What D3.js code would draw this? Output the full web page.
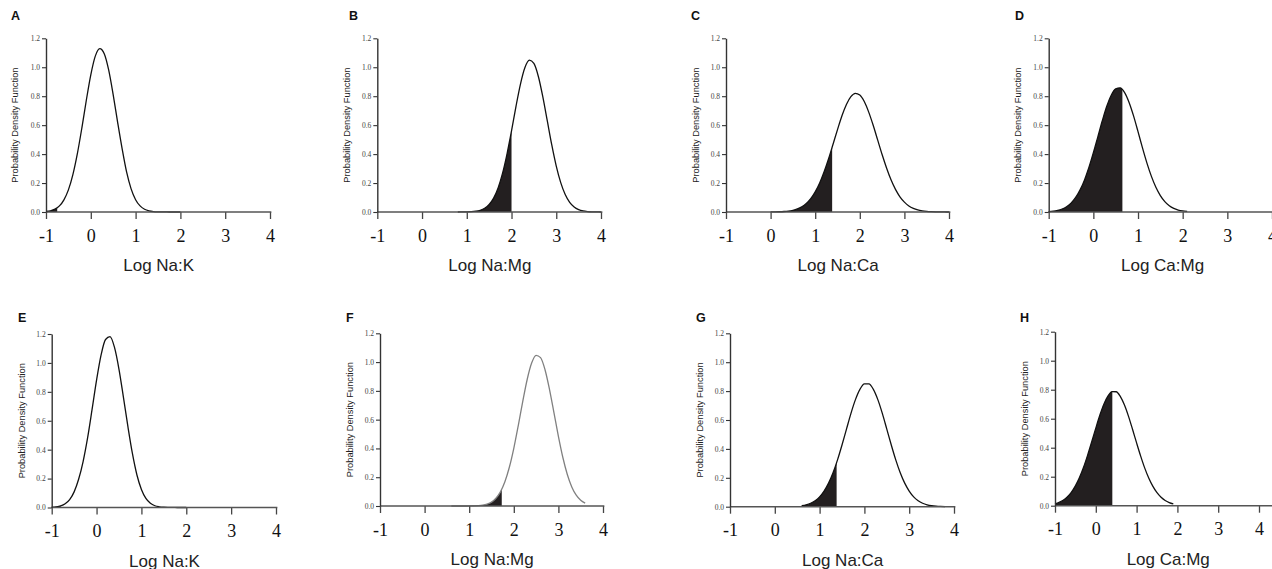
<!DOCTYPE html>
<html>
<head>
<meta charset="utf-8">
<script src="https://cdn.jsdelivr.net/npm/d3@7"></script>
<style>
  body { margin: 0; background: #fff; }
  svg { display: block; }
</style>
</head>
<body>
<svg id="chart" width="1272" height="569"></svg>
<script>
// panel letters and axis titles
const letters = ["A", "B", "C", "D", "E", "F", "G", "H"];
const xTitles = ["Log Na:K", "Log Na:Mg", "Log Na:Ca", "Log Ca:Mg",
                 "Log Na:K", "Log Na:Mg", "Log Na:Ca", "Log Ca:Mg"];
const yTitle = "Probability Density Function";

// tick labels
const xTicks = [-1, 0, 1, 2, 3, 4];
const yTicks = [0, 0.2, 0.4, 0.6, 0.8, 1.0, 1.2];

const step = 0.1;
const curveStart = [-1.0, 0.8, 0.0, -1.0, -1.0, 0.6, 0.6, -1.0];
const densA = [0.0034,0.0085,0.020,0.042,0.084,0.153,0.258,0.403,0.580,0.772,
               0.948,1.077,1.129,1.094,0.980,0.809,0.618,0.436,0.275,0.160,
               0.085,0.042,0.019,0.008,0.003,0.0012,0.0005,0.0002,0,0,0];
const densB = [0.0001,0.0003,0.0008,0.0021,0.0053,0.012,0.026,0.052,0.096,0.166,
               0.268,0.402,0.561,0.730,0.884,0.998,1.049,1.026,0.936,0.795,
               0.629,0.463,0.317,0.203,0.121,0.067,0.035,0.017,0.0074,0.003,
               0.0012,0.0004,0.0001];
const densC = [0.0004,0.0008,0.0016,0.0033,0.0064,0.0118,0.021,0.036,0.059,0.0926,
               0.1395,0.201,0.278,0.368,0.468,0.569,0.665,0.743,0.797,0.820,
               0.808,0.763,0.690,0.599,0.498,0.397,0.304,0.222,0.156,0.105,
               0.068,0.042,0.025,0.014,0.0077,0.004,0.002,0.001,0.0005,0.0002,0.0001];
const densD = [0.0029,0.0059,0.0113,0.0208,0.0366,0.0614,0.0985,0.151,0.220,0.307,
               0.409,0.519,0.630,0.730,0.807,0.851,0.858,0.825,0.757,0.664,
               0.555,0.443,0.338,0.246,0.171,0.1135,0.0718,0.0434,0.025,0.0138,
               0.0072,0.0036];
const densE = [0.0016,0.0044,0.011,0.0255,0.054,0.108,0.195,0.318,0.481,0.678,
               0.881,1.054,1.162,1.182,1.107,0.956,0.760,0.557,0.372,0.225,
               0.125,0.063,0.029,0.012,0.005,0.002,0.0008,0.0003,0.0001,0,0];
const densF = [0,0,0,0.0001,0.0003,0.0009,0.0024,0.0057,0.013,0.027,
               0.054,0.098,0.168,0.269,0.401,0.559,0.725,0.879,0.993,1.047,
               1.031,0.947,0.811,0.649,0.484,0.337,0.219,0.1326,0.075,0.0396,0.0195];
const densG = [0.0069,0.0131,0.0238,0.0412,0.068,0.108,0.163,0.235,0.324,0.427,
               0.537,0.646,0.741,0.812,0.850,0.850,0.812,0.741,0.646,0.537,
               0.427,0.324,0.235,0.163,0.108,0.068,0.0412,0.0238,0.0131,0.0069,
               0.0035,0.0017,0.0008];
const densH = [0.0131,0.0227,0.0376,0.0602,0.0925,0.137,0.194,0.265,0.349,0.441,
               0.535,0.625,0.702,0.758,0.787,0.786,0.754,0.696,0.618,0.527,
               0.433,0.342,0.259,0.189,0.133,0.0895,0.058,0.0362,0.0217,0.0125];
const densities = [densA, densB, densC, densD, densE, densF, densG, densH];

// shaded tail runs from the start of the curve to this value
const cutoffs = [-0.75, 2.0, 1.38, 0.65, -0.8, 1.73, 1.38, 0.405];

// layout of each panel (pixels) : axis left/right, axis top/bottom
const layout = [
  {xl: 46,    xr: 270,  yt: 38.3,  yb: 212,   axisEnd: 4.03, lx: 11,   ly: 20,  tx: 15},
  {xl: 377.3, xr: 601,  yt: 38.3,  yb: 212,   axisEnd: 4.03, lx: 349,  ly: 20,  tx: 347},
  {xl: 726,   xr: 949,  yt: 38.3,  yb: 212,   axisEnd: 4.03, lx: 691,  ly: 20,  tx: 696},
  {xl: 1048.7,xr: 1272, yt: 38.3,  yb: 212,   axisEnd: 4.1,  lx: 1015, ly: 20,  tx: 1018},
  {xl: 51.7,  xr: 276,  yt: 334,   yb: 507.5, axisEnd: 4.03, lx: 18,   ly: 322, tx: 21.5},
  {xl: 380,   xr: 603,  yt: 333.3, yb: 506,   axisEnd: 4.03, lx: 346,  ly: 322, tx: 350},
  {xl: 730,   xr: 954,  yt: 333.3, yb: 506.7, axisEnd: 4.03, lx: 696,  ly: 322, tx: 700},
  {xl: 1055,  xr: 1259, yt: 331.7, yb: 505.7, axisEnd: 4.55, lx: 1020, ly: 322, tx: 1025}
];
const lineColors = ["#111", "#111", "#111", "#111", "#111", "#808080", "#111", "#111"];

const serif = "'Liberation Serif', 'Times New Roman', serif";
const sans = "'Liberation Sans', Arial, sans-serif";

const svg = d3.select("#chart");

letters.forEach((letter, i) => {
  const L = layout[i];
  const g = svg.append("g");

  const x = d3.scaleLinear().domain([-1, 4]).range([L.xl, L.xr]);
  const y = d3.scaleLinear().domain([0, 1.2]).range([L.yb, L.yt]);

  const pts = densities[i].map((d, k) => ({x: curveStart[i] + k * step, y: d}));

  // shaded tail, clipped at the cutoff
  const clipId = "clip" + i;
  svg.append("clipPath").attr("id", clipId)
    .append("rect")
    .attr("x", x(curveStart[i]) - 2)
    .attr("y", L.yt - 5)
    .attr("width", x(cutoffs[i]) - x(curveStart[i]) + 2)
    .attr("height", L.yb - L.yt + 5);

  const area = d3.area().x(d => x(d.x)).y0(y(0)).y1(d => y(d.y)).curve(d3.curveMonotoneX);
  g.append("path")
    .datum(pts)
    .attr("d", area)
    .attr("fill", "#231f20")
    .attr("clip-path", `url(#${clipId})`);

  const line = d3.line().x(d => x(d.x)).y(d => y(d.y)).curve(d3.curveMonotoneX);
  g.append("path")
    .datum(pts)
    .attr("d", line)
    .attr("fill", "none")
    .attr("stroke", lineColors[i])
    .attr("stroke-width", 1.3);

  // x axis
  const xAxisG = g.append("g")
    .attr("transform", `translate(0,${L.yb})`)
    .attr("font-family", serif)
    .call(d3.axisBottom(x).tickValues(xTicks).tickSize(7).tickSizeOuter(0).tickFormat(d => String(d)));
  xAxisG.attr("font-family", serif).attr("font-size", 18);
  xAxisG.select(".domain").remove();
  xAxisG.selectAll(".tick line").attr("stroke", "#444").attr("stroke-width", 1.3);
  xAxisG.selectAll(".tick text")
    .attr("y", 25.5)
    .attr("dy", null)
    .style("font-family", serif)
    .style("font-size", "18px")
    .attr("fill", "#111")
    .attr("dominant-baseline", "middle");
  g.append("line")
    .attr("x1", x(-1)).attr("x2", x(L.axisEnd))
    .attr("y1", L.yb).attr("y2", L.yb)
    .attr("stroke", "#555").attr("stroke-width", 1.4);

  // y axis
  const yAxisG = g.append("g")
    .attr("transform", `translate(${L.xl},0)`)
    .call(d3.axisLeft(y).tickValues(yTicks).tickSize(4).tickSizeOuter(0).tickFormat(d3.format(".1f")));
  yAxisG.select(".domain").attr("stroke", "#333").attr("stroke-width", 1.4);
  yAxisG.selectAll(".tick line").attr("stroke", "#333").attr("stroke-width", 1.1);
  yAxisG.selectAll(".tick text")
    .attr("x", -6)
    .style("font-family", serif)
    .style("font-size", "7.5px")
    .attr("fill", "#444");

  // axis titles
  g.append("text")
    .attr("x", (x(-1) + x(L.axisEnd)) / 2)
    .attr("y", L.yb + 59)
    .attr("text-anchor", "middle")
    .style("font-family", sans)
    .style("font-size", "17px")
    .attr("fill", "#222")
    .text(xTitles[i]);

  g.append("text")
    .attr("transform", `translate(${L.tx},${(L.yt + L.yb) / 2}) rotate(-90)`)
    .attr("dy", "0.35em")
    .attr("text-anchor", "middle")
    .style("font-family", sans)
    .style("font-size", "9.3px")
    .attr("fill", "#222")
    .text(yTitle);

  // panel letter
  g.append("text")
    .attr("x", L.lx)
    .attr("y", L.ly)
    .style("font-family", sans)
    .style("font-weight", "bold")
    .style("font-size", "12.5px")
    .attr("fill", "#111")
    .text(letter);
});
</script>
</body>
</html>
